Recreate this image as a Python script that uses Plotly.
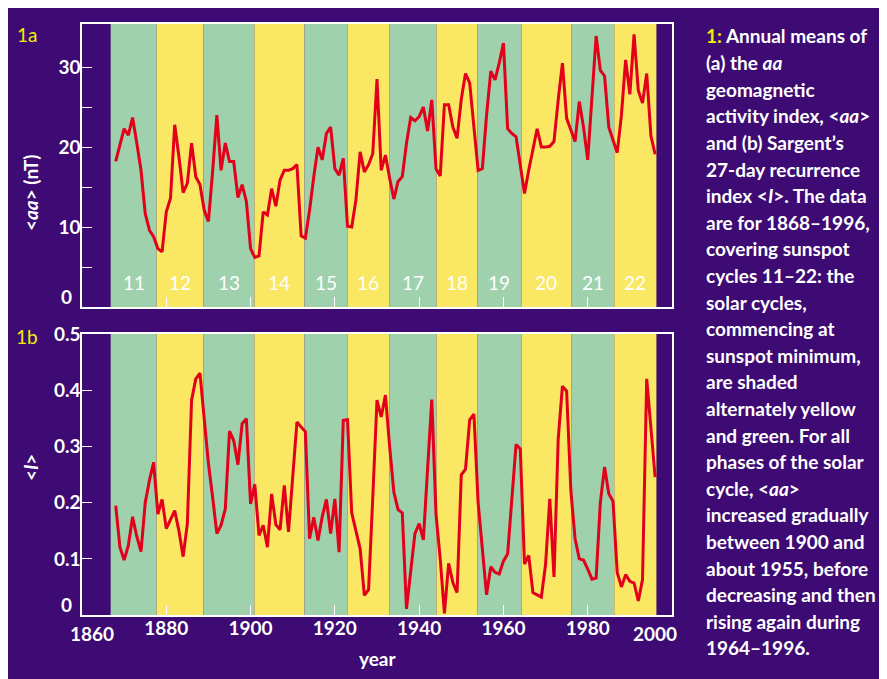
import plotly.graph_objects as go

# annual means, 1868-1996
years = list(range(1868, 1997))

aa_index = [
    18.2, 20.3, 22.3, 21.5, 23.7, 20.5, 17.1, 11.7, 9.6, 8.8,     # 1868-1877
    7.3, 6.9, 11.9, 13.6, 22.8, 18.8, 14.3, 15.5, 20.5, 16.3,     # 1878-1887
    15.3, 12.1, 10.7, 17.0, 24.0, 17.1, 20.5, 18.2, 18.2, 13.7,   # 1888-1897
    15.3, 13.2, 7.3, 6.2, 6.4, 11.9, 11.5, 14.8, 12.6, 15.9,      # 1898-1907
    17.1, 17.1, 17.3, 17.8, 8.9, 8.6, 12.1, 16.3, 20.0, 18.4,     # 1908-1917
    21.7, 22.5, 17.3, 16.5, 18.6, 10.1, 10.0, 13.4, 19.4, 16.9,   # 1918-1927
    17.8, 19.2, 28.5, 17.1, 19.0, 16.1, 13.5, 15.7, 16.3, 20.5,   # 1928-1937
    23.7, 23.3, 23.8, 25.0, 22.0, 25.9, 17.3, 16.4, 25.3, 25.3,   # 1938-1947
    22.5, 21.1, 26.0, 29.2, 28.0, 22.5, 17.1, 17.3, 24.0, 29.5,   # 1948-1957
    28.4, 30.5, 33.0, 22.3, 21.7, 21.3, 18.0, 14.2, 17.1, 19.6,   # 1958-1967
    22.3, 20.0, 20.0, 20.1, 20.7, 25.9, 30.5, 23.6, 22.1, 20.7,   # 1968-1977
    25.7, 22.5, 18.4, 26.0, 33.9, 29.6, 28.9, 22.5, 21.0, 19.3,   # 1978-1987
    24.0, 30.9, 26.6, 34.1, 27.1, 25.5, 29.2, 21.4, 19.1,         # 1988-1996
]

recurrence_index = [
    0.195, 0.121, 0.098, 0.124, 0.175, 0.140, 0.113, 0.200, 0.240, 0.272,  # 1868-1877
    0.180, 0.206, 0.154, 0.170, 0.186, 0.150, 0.104, 0.163, 0.383, 0.421,  # 1878-1887
    0.431, 0.350, 0.270, 0.210, 0.145, 0.160, 0.189, 0.328, 0.311, 0.268,  # 1888-1897
    0.341, 0.350, 0.198, 0.233, 0.142, 0.160, 0.121, 0.216, 0.161, 0.152,  # 1898-1907
    0.231, 0.148, 0.250, 0.344, 0.335, 0.327, 0.136, 0.174, 0.133, 0.175,  # 1908-1917
    0.206, 0.145, 0.207, 0.112, 0.347, 0.348, 0.182, 0.150, 0.118, 0.035,  # 1918-1927
    0.045, 0.210, 0.383, 0.353, 0.392, 0.300, 0.219, 0.188, 0.182, 0.011,  # 1928-1937
    0.080, 0.145, 0.163, 0.134, 0.260, 0.384, 0.180, 0.100, 0.003, 0.092,  # 1938-1947
    0.058, 0.040, 0.250, 0.260, 0.348, 0.358, 0.200, 0.120, 0.036, 0.086,  # 1948-1957
    0.076, 0.073, 0.096, 0.109, 0.216, 0.304, 0.296, 0.091, 0.106, 0.040,  # 1958-1967
    0.036, 0.032, 0.090, 0.207, 0.068, 0.314, 0.408, 0.399, 0.222, 0.136,  # 1968-1977
    0.100, 0.098, 0.082, 0.064, 0.066, 0.201, 0.264, 0.216, 0.203, 0.076,  # 1978-1987
    0.050, 0.072, 0.060, 0.057, 0.025, 0.063, 0.421, 0.330, 0.246,         # 1988-1996
]

# solar cycle starts (sunspot minimum); last value is the end of cycle 22
cycle_starts = [1866.8, 1877.7, 1888.8, 1900.9, 1912.8, 1923.0, 1932.9,
                1944.1, 1953.8, 1964.3, 1976.1, 1986.3, 1996.3]
cycle_numbers = list(range(11, 23))

year_ticks = [1880, 1900, 1920, 1940, 1960, 1980]
aa_ticks = [0, 5, 10, 15, 20, 25, 30]
aa_ticktext = ["", "", "10", "", "20", "", "30"]
rec_ticks = [0.1, 0.2, 0.3, 0.4, 0.5]
rec_ticktext = ["0.1", "0.2", "0.3", "0.4", "0.5"]

caption_lines = [
    "<span style='color:#f4ee00'>1:</span> Annual means of",
    "(a) the <i>aa</i>",
    "geomagnetic",
    "activity index, &lt;<i>aa</i>&gt;",
    "and (b) Sargent\u2019s",
    "27-day recurrence",
    "index &lt;<i>I</i>&gt;. The data",
    "are for 1868\u20131996,",
    "covering sunspot",
    "cycles 11\u201322: the",
    "solar cycles,",
    "commencing at",
    "sunspot minimum,",
    "are shaded",
    "alternately yellow",
    "and green. For all",
    "phases of the solar",
    "cycle, &lt;<i>aa</i>&gt;",
    "increased gradually",
    "between 1900 and",
    "about 1955, before",
    "decreasing and then",
    "rising again during",
    "1964\u20131996.",
]

PURPLE = '#3d0b73'
GREEN = '#9fd1ad'
YELLOW = '#fae864'
RED = '#e2001b'
LABEL_YELLOW = '#f4ee00'
FONT = "Lato, Liberation Sans, sans-serif"

fig = go.Figure()

fig.add_trace(go.Scatter(x=years, y=aa_index, mode='lines',
                         line=dict(color=RED, width=3), xaxis='x', yaxis='y',
                         hoverinfo='x+y'))
fig.add_trace(go.Scatter(x=years, y=recurrence_index, mode='lines',
                         line=dict(color=RED, width=3), xaxis='x2', yaxis='y2',
                         hoverinfo='x+y'))

# shaded solar cycles in both panels
shapes = []
annotations = []
for i, num in enumerate(cycle_numbers):
    colour = GREEN if i % 2 == 0 else YELLOW
    for xr, yr in (('x', 'y domain'), ('x2', 'y2 domain')):
        shapes.append(dict(type='rect', xref=xr, yref=yr,
                           x0=cycle_starts[i], x1=cycle_starts[i + 1], y0=0, y1=1,
                           fillcolor=colour, line_width=0, layer='below'))
    annotations.append(dict(x=(cycle_starts[i] + cycle_starts[i + 1]) / 2, y=3,
                            xref='x', yref='y', text=str(num), showarrow=False,
                            font=dict(family=FONT, size=19, color='white')))

bold = dict(family=FONT, size=19, color='white', weight='bold')


def paper_label(x, y, text, font, **kw):
    return dict(x=x, y=y, xref='paper', yref='paper', text=text, showarrow=False,
                xanchor='center', yanchor='middle', font=font, **kw)


annotations += [
    paper_label(-0.0932, 0.9814, '1a', dict(family=FONT, size=19, color=LABEL_YELLOW)),
    paper_label(-0.0932, 0.4704, '1b', dict(family=FONT, size=19, color=LABEL_YELLOW)),
    paper_label(-0.088, 0.714, '&lt;<i>aa</i>&gt; (nT)', bold, textangle=-90),
    paper_label(-0.088, 0.2487, '&lt;<i>I</i>&gt;', bold, textangle=-90),
    paper_label(0.5017, -0.0728, 'year', bold),
    # zero labels sit just above the axis line
    dict(x=0, y=0, xref='paper', yref='y', text='0', showarrow=False,
         xanchor='right', yanchor='bottom', xshift=-8, yshift=-3, font=bold),
    dict(x=0, y=0, xref='paper', yref='y2', text='0', showarrow=False,
         xanchor='right', yanchor='bottom', xshift=-8, yshift=-3, font=bold),
    # end labels of the year axis are pulled inside
    dict(x=1860, y=0, xref='x2', yref='paper', text='1860', showarrow=False,
         xanchor='center', yanchor='top', xshift=10, yshift=-5, font=bold),
    dict(x=2000, y=0, xref='x2', yref='paper', text='2000', showarrow=False,
         xanchor='center', yanchor='top', xshift=-17, yshift=-5, font=bold),
]

# caption, one line per annotation to keep the printed line spacing
for i, line in enumerate(caption_lines):
    y_px = 36 + 26.6 * i
    annotations.append(dict(x=1.0542, y=(615 - y_px) / 591, xref='paper', yref='paper',
                            text=line, showarrow=False, xanchor='left', yanchor='middle',
                            align='left', font=bold))

axis_style = dict(showgrid=False, zeroline=False, showline=True, mirror=True,
                  linecolor='white', linewidth=1.5, ticks='inside', ticklen=10,
                  tickcolor='white', tickwidth=1.2, tickfont=bold, automargin=False)

# page body adds an 8px margin, so the figure is 8px smaller than the window
fig.update_layout(
    width=879, height=671,
    margin=dict(l=74, r=215, t=16, b=64, autoexpand=False),
    paper_bgcolor=PURPLE, plot_bgcolor=PURPLE,
    showlegend=False,
    shapes=shapes, annotations=annotations,
    xaxis=dict(domain=[0, 1], anchor='y', range=[1860, 2000], tickvals=year_ticks,
               showticklabels=False, **axis_style),
    yaxis=dict(domain=[0.5212, 1], anchor='x', range=[0, 35.4], tickvals=aa_ticks,
               ticktext=aa_ticktext, ticklabelstandoff=-4, **axis_style),
    xaxis2=dict(domain=[0, 1], anchor='y2', range=[1860, 2000], tickvals=year_ticks,
                ticklabelstandoff=-5, **axis_style),
    yaxis2=dict(domain=[0, 0.4755], anchor='x2', range=[0, 0.501], tickvals=rec_ticks,
                ticktext=rec_ticktext, ticklabelstandoff=-4, **axis_style),
)

fig.write_html("out.html")
